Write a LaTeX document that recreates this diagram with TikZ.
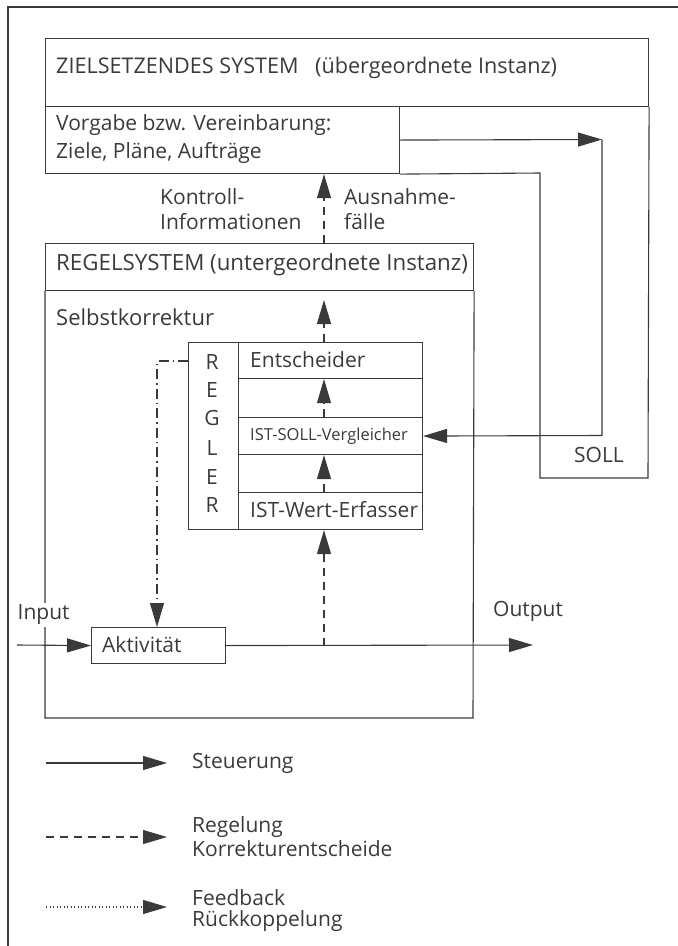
\documentclass[tikz,border=0pt]{standalone}
\usepackage{fontspec}
\setmainfont{Open Sans}
\usetikzlibrary{arrows.meta,calc}
\definecolor{ink}{HTML}{3A3A3A}
\begin{document}
\begin{tikzpicture}[x=1pt,y=-1pt,
  line/.style={draw=ink,line width=1.1pt},
  box/.style={line,inner sep=0pt,anchor=north west},
  arr/.style={-{Triangle[length=24pt,width=14pt]},draw=ink,line width=1.1pt},
  dsh/.style={dash pattern=on 8pt off 6pt},
  ddot/.style={dash pattern=on 10pt off 4pt on 1.5pt off 4pt},
  dots/.style={dash pattern=on 1pt off 2.5pt},
  txt/.style={anchor=west,inner sep=0pt,text=ink,font=\fontsize{21}{25}\selectfont},
  small/.style={txt,font=\fontsize{16.5}{20}\selectfont}]
\useasboundingbox (0,0) rectangle (678,946);
% outer page frame
\coordinate (fa) at (8,946);
\coordinate (fb) at (8,7);
\coordinate (fc) at (678,7);
\draw[line] (fa) -- (fb) -- (fc);

% zielsetzendes system
\node[box,minimum width=603pt,minimum height=68pt] (ziel) at (45,38) {};
\node[box,minimum width=354pt,minimum height=67pt] (vorgabe) at (45,106) {};
\coordinate (s1) at (540,173);
\coordinate (s2) at (540,478);
\coordinate (s3) at (648,478);
\draw[line] (vorgabe.south east) -- (s1) -- (s2) -- (s3) -- (ziel.south east);
\node[txt,font=\fontsize{21.6}{25}\selectfont] (tziel) at (56,68) {ZIELSETZENDES SYSTEM\hspace{0.5em} (übergeordnete Instanz)};
\node[txt] (tvor1) at (56,125) {Vorgabe bzw. Vereinbarung:};
\node[txt] (tvor2) at (56,153) {Ziele, Pläne, Aufträge};
\node[txt] (tkon1) at (160,197) {Kontroll-};
\node[txt] (tkon2) at (160,222) {Informationen};
\node[txt] (taus1) at (344,197) {Ausnahme-};
\node[txt] (taus2) at (344,222) {fälle};
\node[txt,anchor=center] (tsoll) at (599,455) {SOLL};

% regelsystem
\node[box,minimum width=428pt,minimum height=47pt] (regel) at (45,243) {};
\coordinate (r1c) at (45,718);
\coordinate (r2c) at (473,718);
\draw[line] (regel.south west) -- (r1c) -- (r2c) -- (regel.south east);
\node[txt,font=\fontsize{22.3}{25}\selectfont] (tregel) at (56,265) {REGELSYSTEM (untergeordnete Instanz)};
\node[txt,font=\fontsize{22}{25}\selectfont] (tselbst) at (56,317) {Selbstkorrektur};

% regler
\node[box,minimum width=234pt,minimum height=187pt] (regler) at (188,342) {};
\node[box,minimum width=184pt,minimum height=36pt] (ra) at (238,342) {};
\node[box,minimum width=184pt,minimum height=39pt] (rb) at (238,378) {};
\node[box,minimum width=184pt,minimum height=37pt] (rc) at (238,417) {};
\node[box,minimum width=184pt,minimum height=38pt] (rd) at (238,454) {};
\node[box,minimum width=184pt,minimum height=37pt] (re) at (238,492) {};
\node[txt] (tent) at (250,360) {Entscheider};
\node[small] (tver) at (250,436) {IST-SOLL-Vergleicher};
\node[txt] (terf) at (250,510) {IST-Wert-Erfasser};
\foreach \l/\yy [count=\i] in {R/362,E/390,G/418,L/448,E/477,R/505}
  \node[txt,anchor=center] (let\i) at (212,\yy) {\l};

% aktivitaet
\node[box,minimum width=134pt,minimum height=36pt] (aktiv) at (91,627) {};
\node[txt] (takt) at (102,645) {Aktivität};
\node[txt,fill=white,inner sep=1.5pt] (tin) at (16,615) {Input};
\node[txt] (tout) at (493,611) {Output};

% connectors
\coordinate (ax) at (324,0);
\coordinate (c1) at (602,139.5);
\coordinate (c2) at (602,435.5);
\draw[arr] (vorgabe.east) -- (c1);
\draw[arr] (c1) -- (c2) -- (rc.east);
\coordinate (inS) at (17,645);
\coordinate (outE) at (533,645);
\draw[arr] (inS) -- (aktiv.west);
\draw[arr] (aktiv.east) -- (outE);
\draw[arr,dsh] (ax |- aktiv.east) -- (re.south -| ax);
\draw[arr,dsh] (re.north -| ax) -- (rc.south -| ax);
\draw[arr,dsh] (rc.north -| ax) -- (ra.south -| ax);
\coordinate (tip1) at (324,300);
\draw[arr,dsh] (regler.north -| ax) -- (tip1);
\draw[arr,dsh] (regel.north -| ax) -- (vorgabe.south -| ax);
\coordinate (d1) at (157,361);
\draw[arr,ddot] (regler.west |- d1) -- (d1) -- (d1 |- aktiv.north);

% legend
\coordinate (la1) at (46,763);
\coordinate (lb1) at (167,763);
\coordinate (la2) at (46,837);
\coordinate (lb2) at (167,837);
\coordinate (la3) at (46,907);
\coordinate (lb3) at (167,907);
\draw[arr] (la1) -- (lb1);
\draw[arr,dsh] (la2) -- (lb2);
\draw[arr,dots] (la3) -- (lb3);
\node[txt] (lt1) at (192,763) {Steuerung};
\node[txt] (lt2) at (192,827) {Regelung};
\node[txt] (lt3) at (192,849) {Korrekturentscheide};
\node[txt] (lt4) at (192,898) {Feedback};
\node[txt] (lt5) at (192,921) {Rückkoppelung};
\end{tikzpicture}
\end{document}
